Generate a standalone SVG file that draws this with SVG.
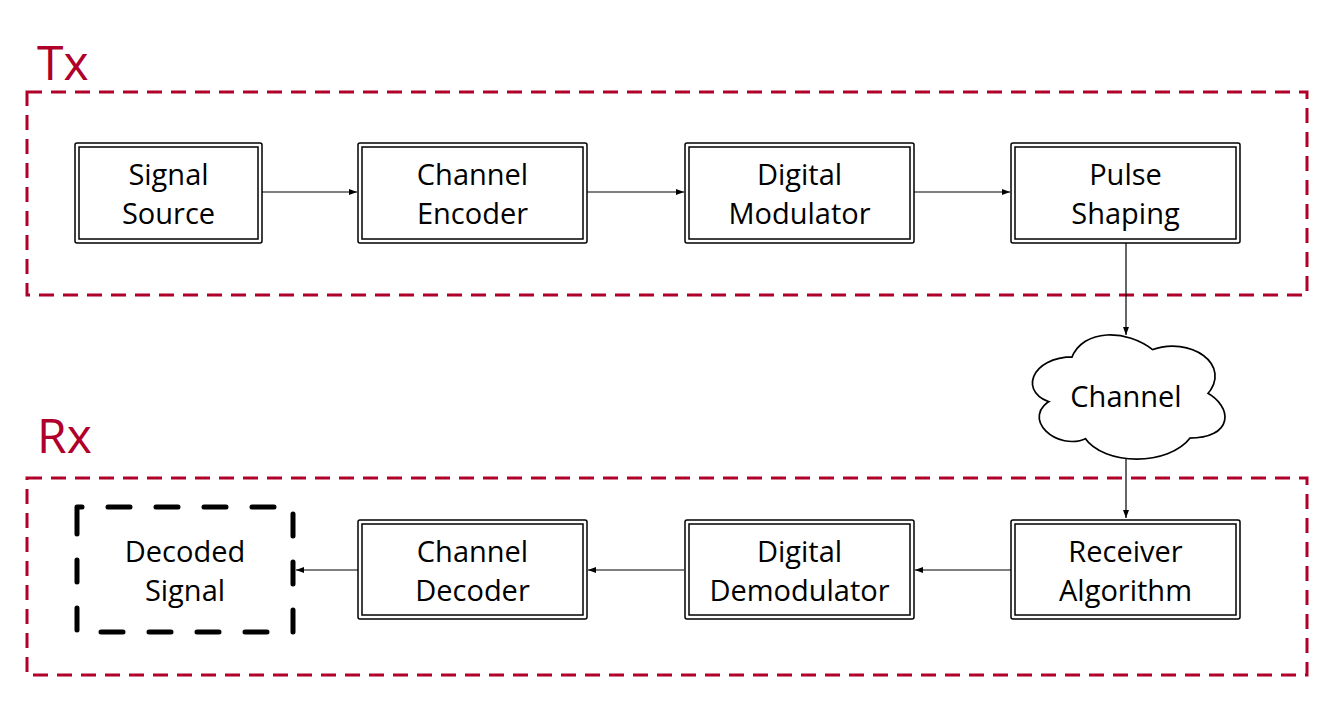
<svg xmlns="http://www.w3.org/2000/svg" width="1334" height="702" viewBox="0 0 1334 702">
<defs>
<marker id="arr" markerWidth="10" markerHeight="8" refX="9" refY="4" orient="auto" markerUnits="userSpaceOnUse">
<path d="M1,1 L9,4 L1,7 z" fill="#000"/>
</marker>
<style>
.grp{fill:none;stroke:#b0002a;stroke-width:3;stroke-dasharray:15 9}
.glabel{font-family:"Open Sans","Liberation Sans",sans-serif;font-size:48px;fill:#b0002a}
.outer{fill:#fff;stroke:#000;stroke-width:1.5}
.inner{fill:none;stroke:#000;stroke-width:1.5}
.t{font-family:"Open Sans","Liberation Sans",sans-serif;font-size:29px;fill:#000;text-anchor:middle}
.edge{fill:none;stroke:#000;stroke-width:1.2;marker-end:url(#arr)}
</style>
</defs>
<rect width="1334" height="702" fill="#fff"/>
<g id="tx-group">
<rect class="grp" x="27" y="92" width="1280" height="203"/>
<text class="glabel" x="37" y="80">Tx</text>
</g>
<g id="rx-group">
<rect class="grp" x="27" y="478" width="1280" height="197"/>
<text class="glabel" x="37" y="453">Rx</text>
</g>
<g id="connectors">
<line class="edge" x1="262" y1="192" x2="357" y2="192"/>
<line class="edge" x1="587" y1="192" x2="684" y2="192"/>
<line class="edge" x1="914" y1="192" x2="1010" y2="192"/>
<line class="edge" x1="1126" y1="243" x2="1126" y2="335"/>
<line class="edge" x1="1126" y1="457" x2="1126" y2="518"/>
<line class="edge" x1="1011" y1="570" x2="915" y2="570"/>
<line class="edge" x1="684" y1="570" x2="588" y2="570"/>
<line class="edge" x1="358" y1="570" x2="296" y2="570"/>
</g>
<g id="signal-source">
<rect class="outer" x="75" y="143" width="187" height="100" rx="2"/>
<rect class="inner" x="79" y="147" width="179" height="92"/>
<text class="t" x="168.5" y="185">Signal</text>
<text class="t" x="168.5" y="224">Source</text>
</g>
<g id="channel-encoder">
<rect class="outer" x="358" y="143" width="229" height="100" rx="2"/>
<rect class="inner" x="362" y="147" width="221" height="92"/>
<text class="t" x="472.5" y="185">Channel</text>
<text class="t" x="472.5" y="224">Encoder</text>
</g>
<g id="digital-modulator">
<rect class="outer" x="685" y="143" width="229" height="100" rx="2"/>
<rect class="inner" x="689" y="147" width="221" height="92"/>
<text class="t" x="799.5" y="185">Digital</text>
<text class="t" x="799.5" y="224">Modulator</text>
</g>
<g id="pulse-shaping">
<rect class="outer" x="1011" y="143" width="229" height="100" rx="2"/>
<rect class="inner" x="1015" y="147" width="221" height="92"/>
<text class="t" x="1125.5" y="185">Pulse</text>
<text class="t" x="1125.5" y="224">Shaping</text>
</g>
<g id="channel">
<path d="M1073.5,359 C1031.5,359 1021,394 1054.6,401 C1021,416.4 1058.8,450 1086.1,436 C1105,464 1168,464 1189,436 C1231,436 1231,408 1204.75,394 C1231,366 1189,338 1152.25,352 C1126,331 1084,331 1073.5,359 Z" fill="#fff" stroke="#000" stroke-width="6" stroke-linejoin="round"/>
<path d="M1073.5,359 C1031.5,359 1021,394 1054.6,401 C1021,416.4 1058.8,450 1086.1,436 C1105,464 1168,464 1189,436 C1231,436 1231,408 1204.75,394 C1231,366 1189,338 1152.25,352 C1126,331 1084,331 1073.5,359 Z" fill="#fff" stroke="#fff" stroke-width="2.6" stroke-linejoin="round"/>
<text class="t" x="1126" y="407">Channel</text>
</g>
<g id="receiver-algorithm">
<rect class="outer" x="1011" y="520" width="229" height="99" rx="2"/>
<rect class="inner" x="1015" y="524" width="221" height="91"/>
<text class="t" x="1125.5" y="562">Receiver</text>
<text class="t" x="1125.5" y="601">Algorithm</text>
</g>
<g id="digital-demodulator">
<rect class="outer" x="685" y="520" width="229" height="99" rx="2"/>
<rect class="inner" x="689" y="524" width="221" height="91"/>
<text class="t" x="799.5" y="562">Digital</text>
<text class="t" x="799.5" y="601">Demodulator</text>
</g>
<g id="channel-decoder">
<rect class="outer" x="358" y="520" width="229" height="99" rx="2"/>
<rect class="inner" x="362" y="524" width="221" height="91"/>
<text class="t" x="472.5" y="562">Channel</text>
<text class="t" x="472.5" y="601">Decoder</text>
</g>
<g id="decoded-signal">
<path d="M77,524 L77,507 L293,507 L293,632 L77,632 Z" fill="none" stroke="#000" stroke-width="5" stroke-linecap="round" stroke-linejoin="round" stroke-dasharray="22 26"/>
<text class="t" x="185" y="562">Decoded</text>
<text class="t" x="185" y="601">Signal</text>
</g>
</svg>
